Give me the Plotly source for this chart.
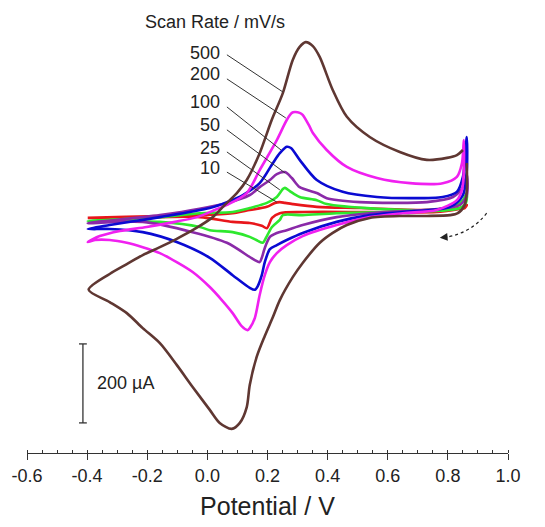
import plotly.graph_objects as go

# ---------------- data (potential in V, current in µA) ----------------
SCAN_RATES = [10, 25, 50, 100, 200, 500]
LINE_COLORS = {10: "#e8161b", 25: "#2ee82e", 50: "#8a2aa8", 100: "#0a0ad2",
               200: "#f020f0", 500: "#5f3732"}

# cathodic branch (scan from +0.86 V down to -0.40 V)
E_10_CAT = [0.863, 0.856, 0.840, 0.763, 0.540, 0.317, 0.241, 0.215, 0.198, 0.181, 0.141, 0.084, -0.025, -0.158, -0.398]
I_10_CAT = [18, 10, 8, 0, 0, 0, -3, -15, -41, -35, -28, -25, -13, -13, -15]
# anodic branch (scan back up to +0.86 V)
E_10_AN = [-0.158, -0.025, 0.084, 0.141, 0.198, 0.225, 0.241, 0.258, 0.284, 0.364, 0.507, 0.730, 0.840, 0.863]
I_10_AN = [-10, -8, -3, 5, 13, 23, 25, 23, 20, 13, 10, 5, 10, 18]

E_25_CAT = [0.863, 0.860, 0.840, 0.773, 0.430, 0.317, 0.251, 0.241, 0.215, 0.198, 0.184, 0.168, 0.141, 0.084, 0.008, -0.025, -0.158, -0.398]
I_25_CAT = [48, 23, 10, 3, -3, -8, -8, -20, -38, -61, -78, -73, -63, -51, -46, -38, -25, -23]
E_25_AN = [-0.158, -0.025, 0.084, 0.141, 0.198, 0.231, 0.251, 0.258, 0.274, 0.307, 0.364, 0.397, 0.564, 0.730, 0.817, 0.850, 0.863]
I_25_AN = [-13, -3, 0, 10, 23, 38, 58, 61, 53, 38, 30, 20, 8, 5, 13, 30, 48]

E_50_CAT = [0.863, 0.863, 0.840, 0.773, 0.540, 0.430, 0.317, 0.264, 0.231, 0.208, 0.191, 0.181, 0.174, 0.158, 0.141, 0.065, -0.049, -0.215, -0.398]
I_50_CAT = [94, 43, 18, 8, -3, -13, -33, -46, -53, -63, -91, -116, -127, -122, -114, -78, -51, -25, -28]
E_50_AN = [-0.158, 0.065, 0.141, 0.174, 0.208, 0.231, 0.258, 0.281, 0.307, 0.364, 0.397, 0.507, 0.617, 0.730, 0.817, 0.850, 0.863]
I_50_AN = [-8, 23, 43, 63, 81, 96, 101, 86, 63, 48, 35, 25, 23, 25, 38, 63, 94]

E_100_CAT = [0.863, 0.863, 0.850, 0.807, 0.650, 0.540, 0.430, 0.317, 0.264, 0.231, 0.208, 0.191, 0.181, 0.168, 0.158, 0.141, 0.084, 0.008, -0.102, -0.215, -0.325, -0.398]
I_100_CAT = [190, 106, 43, 13, 0, -8, -25, -53, -71, -84, -94, -127, -160, -187, -197, -192, -160, -116, -76, -51, -43, -43]
E_100_AN = [-0.325, -0.158, 0.008, 0.065, 0.118, 0.174, 0.218, 0.241, 0.264, 0.278, 0.307, 0.364, 0.450, 0.564, 0.674, 0.783, 0.830, 0.850, 0.863]
I_100_AN = [-33, -13, 10, 25, 43, 73, 124, 149, 165, 162, 132, 81, 51, 38, 35, 38, 51, 89, 190]

E_200_CAT = [0.853, 0.853, 0.847, 0.830, 0.763, 0.650, 0.540, 0.430, 0.317, 0.264, 0.231, 0.208, 0.191, 0.174, 0.158, 0.141, 0.134, 0.114, 0.084, 0.048, 0.008, -0.049, -0.102, -0.158, -0.215, -0.268, -0.325, -0.374, -0.398]
I_200_CAT = [182, 106, 56, 30, 5, -3, -13, -33, -61, -84, -104, -127, -160, -210, -268, -294, -299, -289, -256, -223, -190, -152, -127, -104, -89, -78, -71, -71, -76]
E_200_AN = [-0.358, -0.291, -0.202, -0.108, -0.035, 0.025, 0.065, 0.131, 0.174, 0.231, 0.264, 0.281, 0.291, 0.307, 0.317, 0.341, 0.351, 0.397, 0.464, 0.564, 0.674, 0.783, 0.830, 0.847, 0.853]
I_200_AN = [-61, -48, -38, -25, -13, 5, 18, 48, 106, 182, 233, 251, 253, 251, 246, 215, 200, 157, 114, 86, 73, 73, 89, 124, 182]

E_500_CAT = [0.863, 0.863, 0.856, 0.833, 0.807, 0.730, 0.650, 0.540, 0.464, 0.417, 0.374, 0.317, 0.284, 0.241, 0.218, 0.191, 0.164, 0.141, 0.131, 0.108, 0.081, 0.041, 0.008, -0.049, -0.102, -0.158, -0.215, -0.268, -0.325, -0.395]
I_500_CAT = [124, 56, 18, -3, -8, -10, -10, -15, -33, -53, -78, -129, -165, -223, -266, -314, -367, -438, -494, -534, -549, -534, -501, -443, -387, -332, -294, -256, -228, -197]
E_500_AN = [-0.325, -0.268, -0.215, -0.158, -0.102, -0.042, 0.018, 0.058, 0.098, 0.131, 0.174, 0.214, 0.251, 0.284, 0.307, 0.327, 0.351, 0.374, 0.417, 0.464, 0.540, 0.640, 0.730, 0.797, 0.830, 0.850]
I_500_AN = [-157, -132, -109, -89, -68, -43, -13, 18, 48, 81, 149, 233, 301, 385, 418, 430, 420, 392, 309, 241, 190, 152, 132, 137, 144, 157]

CURVES = {
    10: (E_10_CAT + E_10_AN, I_10_CAT + I_10_AN),
    25: (E_25_CAT + E_25_AN, I_25_CAT + I_25_AN),
    50: (E_50_CAT + E_50_AN, I_50_CAT + I_50_AN),
    100: (E_100_CAT + E_100_AN, I_100_CAT + I_100_AN),
    200: (E_200_CAT + E_200_AN, I_200_CAT + I_200_AN),
    500: (E_500_CAT + E_500_AN, I_500_CAT + I_500_AN),
}

TICK_VALUES = [-0.6, -0.4, -0.2, 0.0, 0.2, 0.4, 0.6, 0.8, 1.0]
TICK_LABELS = ["-0.6", "-0.4", "-0.2", "0.0", "0.2", "0.4", "0.6", "0.8", "1.0"]
SCALE_BAR_UA = 200

# ---------------- annotation placement ----------------
LABEL_RIGHT_E = 0.049
LABEL_I = {500: 403, 200: 349, 100: 279, 50: 220, 25: 162, 10: 111}
LEADER_START_E = 0.065
LEADER_START_I = {500: 398, 200: 337, 100: 266, 50: 208, 25: 152, 10: 101}
LEADER_END = {500: (0.251, 304), 200: (0.261, 238), 100: (0.245, 157),
              50: (0.258, 99), 25: (0.241, 56), 10: (0.231, 25)}
SCALE_BAR_E = -0.414
SCALE_BAR_TOP_I = -334

FONT = "Liberation Sans, Arial, sans-serif"
INK = "#222222"

fig = go.Figure()
for rate in SCAN_RATES:
    e, i = CURVES[rate]
    fig.add_trace(go.Scatter(x=e, y=i, mode="lines", name=f"{rate} mV/s",
                             line=dict(color=LINE_COLORS[rate], width=2.6,
                                       shape="spline", smoothing=0.8),
                             hoverinfo="skip"))

shapes = []
annotations = []
for rate in SCAN_RATES:
    ex, iy = LEADER_END[rate]
    shapes.append(dict(type="line", xref="x", yref="y", x0=LEADER_START_E, y0=LEADER_START_I[rate],
                       x1=ex, y1=iy, line=dict(color="#333333", width=1)))
    annotations.append(dict(x=LABEL_RIGHT_E, y=LABEL_I[rate], xref="x", yref="y", text=str(rate),
                            showarrow=False, xanchor="right", yanchor="middle",
                            font=dict(family=FONT, size=18, color=INK)))

annotations.append(dict(x=0.025, y=481, xref="x", yref="y", text="Scan Rate / mV/s",
                        showarrow=False, xanchor="center", yanchor="middle",
                        font=dict(family=FONT, size=18, color=INK)))

# scale bar
bar_bottom = SCALE_BAR_TOP_I - SCALE_BAR_UA
shapes.append(dict(type="line", xref="x", yref="y", x0=SCALE_BAR_E, x1=SCALE_BAR_E,
                   y0=SCALE_BAR_TOP_I, y1=bar_bottom, line=dict(color="#333333", width=1.3)))
for yv in (SCALE_BAR_TOP_I, bar_bottom):
    shapes.append(dict(type="line", xref="x", yref="y", x0=SCALE_BAR_E - 0.013, x1=SCALE_BAR_E + 0.013,
                       y0=yv, y1=yv, line=dict(color="#333333", width=1.3)))
annotations.append(dict(x=-0.375, y=(SCALE_BAR_TOP_I + bar_bottom) / 2, xref="x", yref="y",
                        text=f"{SCALE_BAR_UA} µA", showarrow=False, xanchor="left", yanchor="middle",
                        font=dict(family=FONT, size=18, color=INK)))

# scan direction arrow
shapes.append(dict(type="path", xref="x", yref="y", path="M 0.929,-3 Q 0.880,-51 0.800,-63",
                   line=dict(color=INK, width=1.2, dash="dot")))
annotations.append(dict(x=0.773, y=-65, xref="x", yref="y", ax=0.803, ay=-63, axref="x", ayref="y",
                        text="", showarrow=True, arrowhead=2, arrowsize=1.3, arrowwidth=1.2,
                        arrowcolor=INK))

fig.update_layout(width=545, height=527, margin=dict(l=27, r=37, t=5, b=74),
                  plot_bgcolor="white", paper_bgcolor="white", showlegend=False,
                  font=dict(family=FONT, color=INK), shapes=shapes, annotations=annotations)
fig.update_xaxes(range=[-0.6, 1.0], showline=True, linecolor="#333333", linewidth=1,
                 ticks="outside", ticklen=6, tickcolor="#333333", tickwidth=1,
                 tickvals=TICK_VALUES, ticktext=TICK_LABELS, showgrid=False, zeroline=False,
                 tickfont=dict(family=FONT, size=18, color=INK),
                 title=dict(text="Potential / V", font=dict(family=FONT, size=25, color=INK), standoff=12),
                 minor=dict(ticks="inside", ticklen=3, dtick=0.05, tick0=-0.6, tickcolor="#333333", showgrid=False))
fig.update_yaxes(range=[-610.2, 524.1], visible=False)

fig.write_html("out.html", config={"displayModeBar": False},
               post_script="document.body.style.margin='0';")
